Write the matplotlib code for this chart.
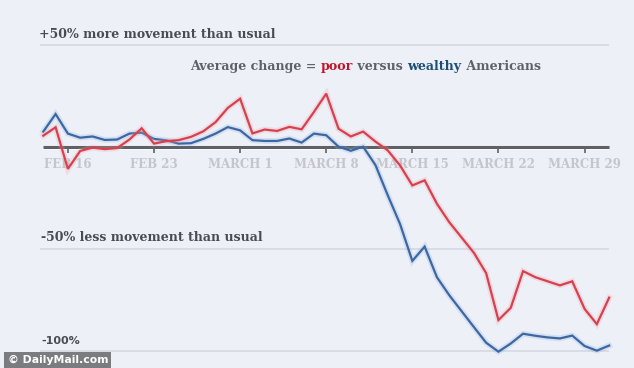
import numpy as np
import pandas as pd
import matplotlib
matplotlib.use('Agg')
from matplotlib import pyplot as plt
import matplotlib.dates as mdates
import matplotlib.patheffects as pe

# daily change in movement vs usual, in percent
dates = pd.date_range('2020-02-14', '2020-03-31', freq='D')
poor = [5.4, 9.5, -10.9, -2.1, -0.5, -1.2, -0.7, 3.5, 9.0, 1.5,
        2.7, 3.2, 4.8, 7.5, 12.0, 19.0, 23.5, 6.5, 8.4, 7.7,
        9.7, 8.5, 17.0, 26.0, 8.8, 5.0, 7.4, 2.5, -1.8, -9.2,
        -19.0, -16.5, -28.0, -37.0, -44.5, -52.0, -62.0, -85.0, -79.0, -61.0,
        -64.0, -66.0, -68.0, -66.0, -79.5, -87.0, -74.0]
wealthy = [7.4, 16.0, 6.4, 4.4, 5.0, 3.3, 3.5, 6.4, 6.9, 3.8,
           3.1, 1.5, 1.7, 3.8, 6.4, 9.6, 8.0, 3.2, 2.8, 2.8,
           4.0, 2.0, 6.4, 5.6, 0.0, -2.0, 0.0, -9.0, -23.8, -37.9,
           -56.0, -49.0, -64.0, -72.8, -80.6, -88.4, -96.1, -100.5, -96.5, -91.7,
           -92.7, -93.5, -94.0, -92.6, -97.7, -100.0, -97.5]
tick_dates = pd.to_datetime(['2020-02-16', '2020-02-23', '2020-03-01', '2020-03-08',
                             '2020-03-15', '2020-03-22', '2020-03-29'])
tick_labels = ['FEB 16', 'FEB 23', 'MARCH 1', 'MARCH 8', 'MARCH 15', 'MARCH 22', 'MARCH 29']

bg = '#edf0f7'
red = '#d8404d'
blue = '#3b68a3'
dark = '#4a4c52'
serif = ['DejaVu Serif']

fig = plt.figure(figsize=(6.34, 3.68), dpi=100, facecolor=bg)
ax = fig.add_axes([0, 0, 1, 1])
ax.set_facecolor(bg)
ax.axis('off')

start = mdates.date2num(dates[0])
day = lambda d: start + d
ax.set_xlim(day(-3.52), day(48.02))
ax.set_ylim(-108.5, 71.9)

# reference lines
for v in [50, -50, -100]:
    ax.hlines(v, day(-0.25), day(45.95), color='#d6d9e2', lw=1.2, zorder=1)
ax.hlines(-1.0, day(0), day(46), color='white', lw=1.5, zorder=2)
ax.hlines(0, day(0), day(46), color='#5e6066', lw=2.2, zorder=3)
ax.vlines(mdates.date2num(tick_dates), -3.2, 0, color='#5e6066', lw=1.2, zorder=3)

for t, lab in zip(tick_dates, tick_labels):
    ax.text(mdates.date2num(t), -8.5, lab, ha='center', va='center', fontsize=8.5,
            fontweight='bold', color='#c4c6cc', family=serif, zorder=2)

# series with soft halo
glow = lambda c: [pe.Stroke(linewidth=4.2, foreground=c, alpha=0.25), pe.Normal()]
ax.plot(mdates.date2num(dates), wealthy, color=blue, lw=1.6, zorder=5,
        path_effects=glow('#8fb0e0'), solid_joinstyle='miter')
ax.plot(mdates.date2num(dates), poor, color=red, lw=1.6, zorder=6,
        path_effects=glow('#f0a0a8'), solid_joinstyle='miter')

# annotations
ax.text(day(-0.35), 52, '+50% more movement than usual', fontsize=9, fontweight='bold',
        color=dark, family=serif, va='bottom', ha='left')
ax.text(day(-0.15), -47.5, '-50% less movement than usual', fontsize=9, fontweight='bold',
        color=dark, family=serif, va='bottom', ha='left')
ax.text(day(-0.15), -97.5, '-100%', fontsize=8, fontweight='bold',
        color=dark, va='bottom', ha='left')

# multicoloured subtitle
parts = [('Average change = ', '#5d6169'), ('poor', '#c0162c'), (' versus ', '#5d6169'),
         ('wealthy', '#1d4e7a'), (' Americans', '#5d6169')]
prev = ax.text(day(11.95), 39.5, parts[0][0], fontsize=9.1, fontweight='bold',
               color=parts[0][1], family=serif, va='center', ha='left')
for s, c in parts[1:]:
    prev = ax.annotate(s, xy=(1, 0.5), xycoords=prev, va='center', ha='left',
                       fontsize=9.1, fontweight='bold', color=c, family=serif)

# watermark
fig.text(0.012, 0.008, '\u00a9 DailyMail.com', fontsize=7.8, fontweight='bold', color='white',
         ha='left', va='bottom',
         bbox=dict(boxstyle='square,pad=0.3', facecolor='#7b7c80', edgecolor='none'))

plt.savefig('out.png', dpi=100, facecolor=bg)
plt.close()
